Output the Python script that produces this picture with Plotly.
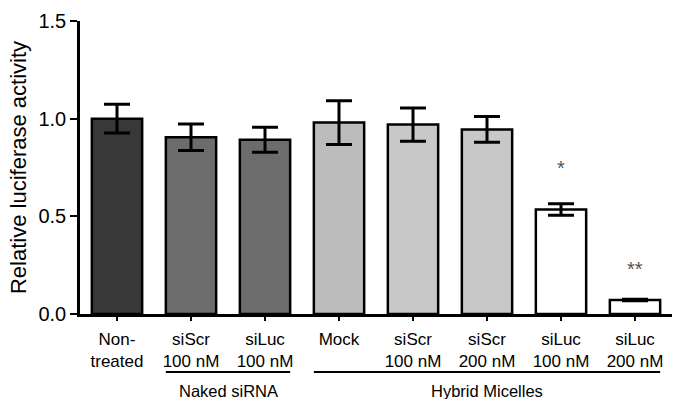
import plotly.graph_objects as go

categories = ["Non-<br>treated", "siScr<br>100 nM", "siLuc<br>100 nM", "Mock",
              "siScr<br>100 nM", "siScr<br>200 nM", "siLuc<br>100 nM", "siLuc<br>200 nM"]
values = [1.00, 0.905, 0.892, 0.980, 0.970, 0.945, 0.535, 0.072]
errors = [0.074, 0.068, 0.064, 0.112, 0.085, 0.066, 0.030, 0.004]
colors = ["#383838", "#6c6c6c", "#6c6c6c", "#bcbcbc", "#c8c8c8", "#c8c8c8", "#ffffff", "#ffffff"]
sig_labels = ["", "", "", "", "", "", "*", "**"]
sig_y = [None, None, None, None, None, None, 0.75, 0.23]
groups = [("Naked siRNA", 1, 2), ("Hybrid Micelles", 3, 7)]
yticks = [0.0, 0.5, 1.0, 1.5]

x = list(range(len(categories)))
BARW = 0.68

fig = go.Figure()
fig.add_trace(go.Bar(
    x=x, y=values, width=BARW,
    marker=dict(color=colors, line=dict(color="black", width=2.5)),
    error_y=dict(type="data", array=errors, visible=True, color="black",
                 thickness=3, width=13),
    showlegend=False,
))

font = "Liberation Sans, Arial, sans-serif"

annotations = []
for i, (lab, yy) in enumerate(zip(sig_labels, sig_y)):
    if lab:
        annotations.append(dict(x=i, y=yy, xref="x", yref="y", text=lab,
                                showarrow=False, font=dict(size=20, color="#555", family=font)))

shapes = []
for name, a, b in groups:
    shapes.append(dict(type="line", xref="x", yref="paper",
                       x0=a - BARW / 2, x1=b + BARW / 2, y0=-0.198, y1=-0.198,
                       line=dict(color="black", width=2)))
    annotations.append(dict(x=(a + b) / 2, y=-0.262, xref="x", yref="paper",
                            text=name, showarrow=False, yanchor="middle",
                            font=dict(size=16.5, color="black", family=font)))

fig.update_layout(
    width=673, height=399,
    margin=dict(l=80, r=1, t=21, b=85),
    paper_bgcolor="white", plot_bgcolor="white",
    font=dict(family=font, color="black"),
    annotations=annotations, shapes=shapes,
    xaxis=dict(range=[-0.5, 7.5], tickmode="array", tickvals=x, ticktext=categories,
               showline=True, linecolor="black", linewidth=2.5,
               ticks="outside", ticklen=4, tickwidth=1.5, tickcolor="black",
               ticklabelstandoff=4,
               tickfont=dict(size=17, family=font), showgrid=False, zeroline=False),
    yaxis=dict(range=[0, 1.5], tickvals=yticks, ticktext=["0.0", "0.5", "1.0", "1.5"],
               showline=True, linecolor="black", linewidth=2.5,
               ticks="outside", ticklen=7, tickwidth=2, tickcolor="black",
               tickfont=dict(size=20, family=font), showgrid=False, zeroline=False,
               title=dict(text="Relative luciferase activity", font=dict(size=22, family=font),
                          standoff=6)),
)

fig.write_html("out.html")
